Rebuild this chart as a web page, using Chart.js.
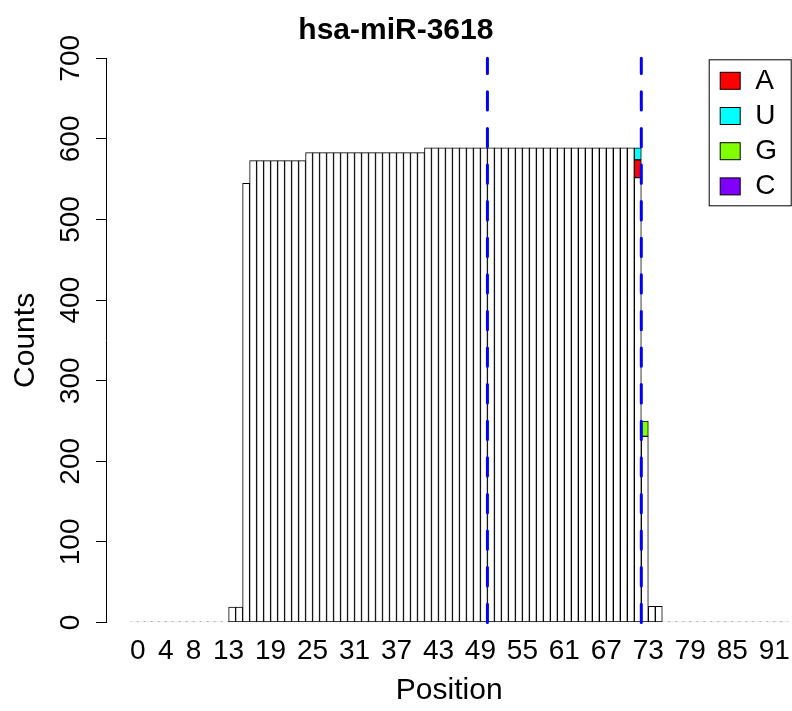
<!DOCTYPE html>
<html>
<head>
<meta charset="utf-8">
<title>hsa-miR-3618</title>
<script src="https://cdn.jsdelivr.net/npm/chart.js@4.4.1/dist/chart.umd.min.js"></script>
<style>
  html, body { margin: 0; padding: 0; background: #fff; }
  #wrap { width: 792px; height: 711px; }
</style>
</head>
<body>
<div id="wrap"><canvas id="chart" width="792" height="711"></canvas></div>
<script>
var chartTitle = 'hsa-miR-3618';

// positions 0..93 along the precursor
var positions = [];
for (var i = 0; i <= 93; i++) positions.push(i);

// read counts (reference-matching part of each bar)
var counts = [
  0, 0, 0, 0, 0, 0, 0, 0, 0, 0, 0, 0, 0, 0,
  19, 19, 545,
  573, 573, 573, 573, 573, 573, 573, 573,
  583, 583, 583, 583, 583, 583, 583, 583, 583, 583, 583, 583, 583, 583, 583, 583, 583,
  589, 589, 589, 589, 589, 589, 589, 589, 589, 589, 589, 589, 589, 589, 589,
  589, 589, 589, 589, 589, 589, 589, 589, 589, 589, 589, 589, 589, 589, 589,
  552, 231, 20, 20,
  0, 0, 0, 0, 0, 0, 0, 0, 0, 0, 0, 0, 0, 0, 0, 0, 0, 0
];

// mismatched nucleotides stacked on top
var mismatchPos = [72, 72, 73];
var mismatchBase = ['A', 'U', 'G'];
var mismatchCount = [22, 15, 19];

var nucleotides = ['A', 'U', 'G', 'C'];
var nucColors = ['#FF0000', '#00FFFF', '#80FF00', '#8000FF'];

var xTicks = [0, 4, 8, 13, 19, 25, 31, 37, 43, 49, 55, 61, 67, 73, 79, 85, 91];
var yTicks = [0, 100, 200, 300, 400, 500, 600, 700];
var tickShift = 0.5; // labels sit half a bar right of the bar centres

// dashed guide lines (between bars)
var guideLines = [50.5, 72.5];

var fontFamily = '"Liberation Sans", Arial, Helvetica, sans-serif';
Chart.defaults.font.family = fontFamily;
Chart.defaults.color = '#000';

var barStyle = {
  borderWidth: 1,
  borderSkipped: false,
  barPercentage: 1,
  categoryPercentage: 1
};

var datasets = [Object.assign({
  label: 'ref',
  data: counts,
  backgroundColor: '#ffffff',
  borderColor: function (ctx) { return ctx.raw === 0 ? '#8a8a8a' : '#000000'; },
  minBarLength: 1
}, barStyle)];

nucleotides.forEach(function (n, j) {
  var vals = positions.map(function () { return null; });
  mismatchBase.forEach(function (b, k) {
    if (b === n) vals[mismatchPos[k]] = mismatchCount[k];
  });
  datasets.push(Object.assign({
    label: n,
    data: vals,
    backgroundColor: nucColors[j],
    borderColor: '#000000',
    inLegend: true
  }, barStyle));
});

var guidePlugin = {
  id: 'guides',
  afterDatasetsDraw: function (chart) {
    var xs = chart.scales.x, ys = chart.scales.y, ctx = chart.ctx;
    ctx.save();
    ctx.strokeStyle = '#0000FF';
    ctx.lineWidth = 3;
    ctx.lineCap = 'round';
    ctx.setLineDash([18.3, 18.3]);
    guideLines.forEach(function (v) {
      var px = xs.getPixelForValue(v);
      ctx.beginPath();
      ctx.moveTo(px, ys.getPixelForValue(ys.min));
      ctx.lineTo(px, ys.getPixelForValue(ys.max));
      ctx.stroke();
    });
    ctx.restore();
  }
};

var legendPlugin = {
  id: 'boxLegend',
  afterDraw: function (chart) {
    var ctx = chart.ctx, area = chart.chartArea;
    var items = chart.data.datasets.filter(function (d) { return d.inLegend; });
    var w = 82, h = 146, rowH = 35.2;
    var left = area.right - w - 0.5, top = area.top + 1.5;
    ctx.save();
    ctx.strokeStyle = '#000';
    ctx.lineWidth = 1;
    ctx.strokeRect(left, top, w, h);
    ctx.font = '28px ' + fontFamily;
    ctx.textBaseline = 'middle';
    items.forEach(function (d, i) {
      var cy = top + 21 + i * rowH;
      ctx.fillStyle = d.backgroundColor;
      ctx.fillRect(left + 11, cy - 8.5, 20, 17);
      ctx.strokeRect(left + 11, cy - 8.5, 20, 17);
      ctx.fillStyle = '#000';
      ctx.fillText(d.label, left + 46, cy);
    });
    ctx.restore();
  }
};

new Chart(document.getElementById('chart').getContext('2d'), {
  type: 'bar',
  data: { labels: positions, datasets: datasets },
  options: {
    responsive: false,
    animation: false,
    devicePixelRatio: 1,
    layout: { padding: { left: 0, right: 0.3, top: 0, bottom: 0 } },
    plugins: {
      legend: { display: false },
      tooltip: { enabled: false },
      title: {
        display: true,
        text: chartTitle,
        color: '#000',
        font: { size: 30, weight: 'bold' },
        padding: { top: 12.6, bottom: 9.7 }
      }
    },
    scales: {
      x: {
        type: 'linear',
        stacked: true,
        offset: false,
        min: -3.93,
        max: 94.0,
        grid: { display: false, drawTicks: false },
        border: { display: false },
        afterBuildTicks: function (s) {
          s.ticks = xTicks.map(function (v) { return { value: v + tickShift }; });
        },
        ticks: {
          color: '#000',
          font: { size: 28 },
          padding: 11.7,
          autoSkip: false,
          minRotation: 0,
          maxRotation: 0,
          callback: function (v) { return String(v - tickShift); }
        },
        title: {
          display: true,
          text: 'Position',
          color: '#000',
          font: { size: 30 },
          padding: { top: 0, bottom: 2 }
        },
        afterFit: function (s) {
          s.height = 88.5;
          s.paddingLeft = 0;
          s.paddingRight = 0;
        }
      },
      y: {
        stacked: true,
        min: 0,
        max: 700,
        afterBuildTicks: function (s) { s.ticks = yTicks.map(function (v) { return { value: v }; }); },
        grid: { drawOnChartArea: false, drawTicks: true, tickLength: 10.7, color: '#000' },
        border: { display: true, color: '#000', width: 1 },
        ticks: {
          color: '#000',
          font: { size: 28 },
          minRotation: 90,
          maxRotation: 90,
          crossAlign: 'center',
          padding: 1.6,
          callback: function (v) { return String(v); }
        },
        title: {
          display: true,
          text: 'Counts',
          color: '#000',
          font: { size: 30 },
          padding: { top: 8, bottom: 0 }
        },
        afterFit: function (s) { s.width = 106.7; }
      }
    }
  },
  plugins: [guidePlugin, legendPlugin]
});
</script>
</body>
</html>
